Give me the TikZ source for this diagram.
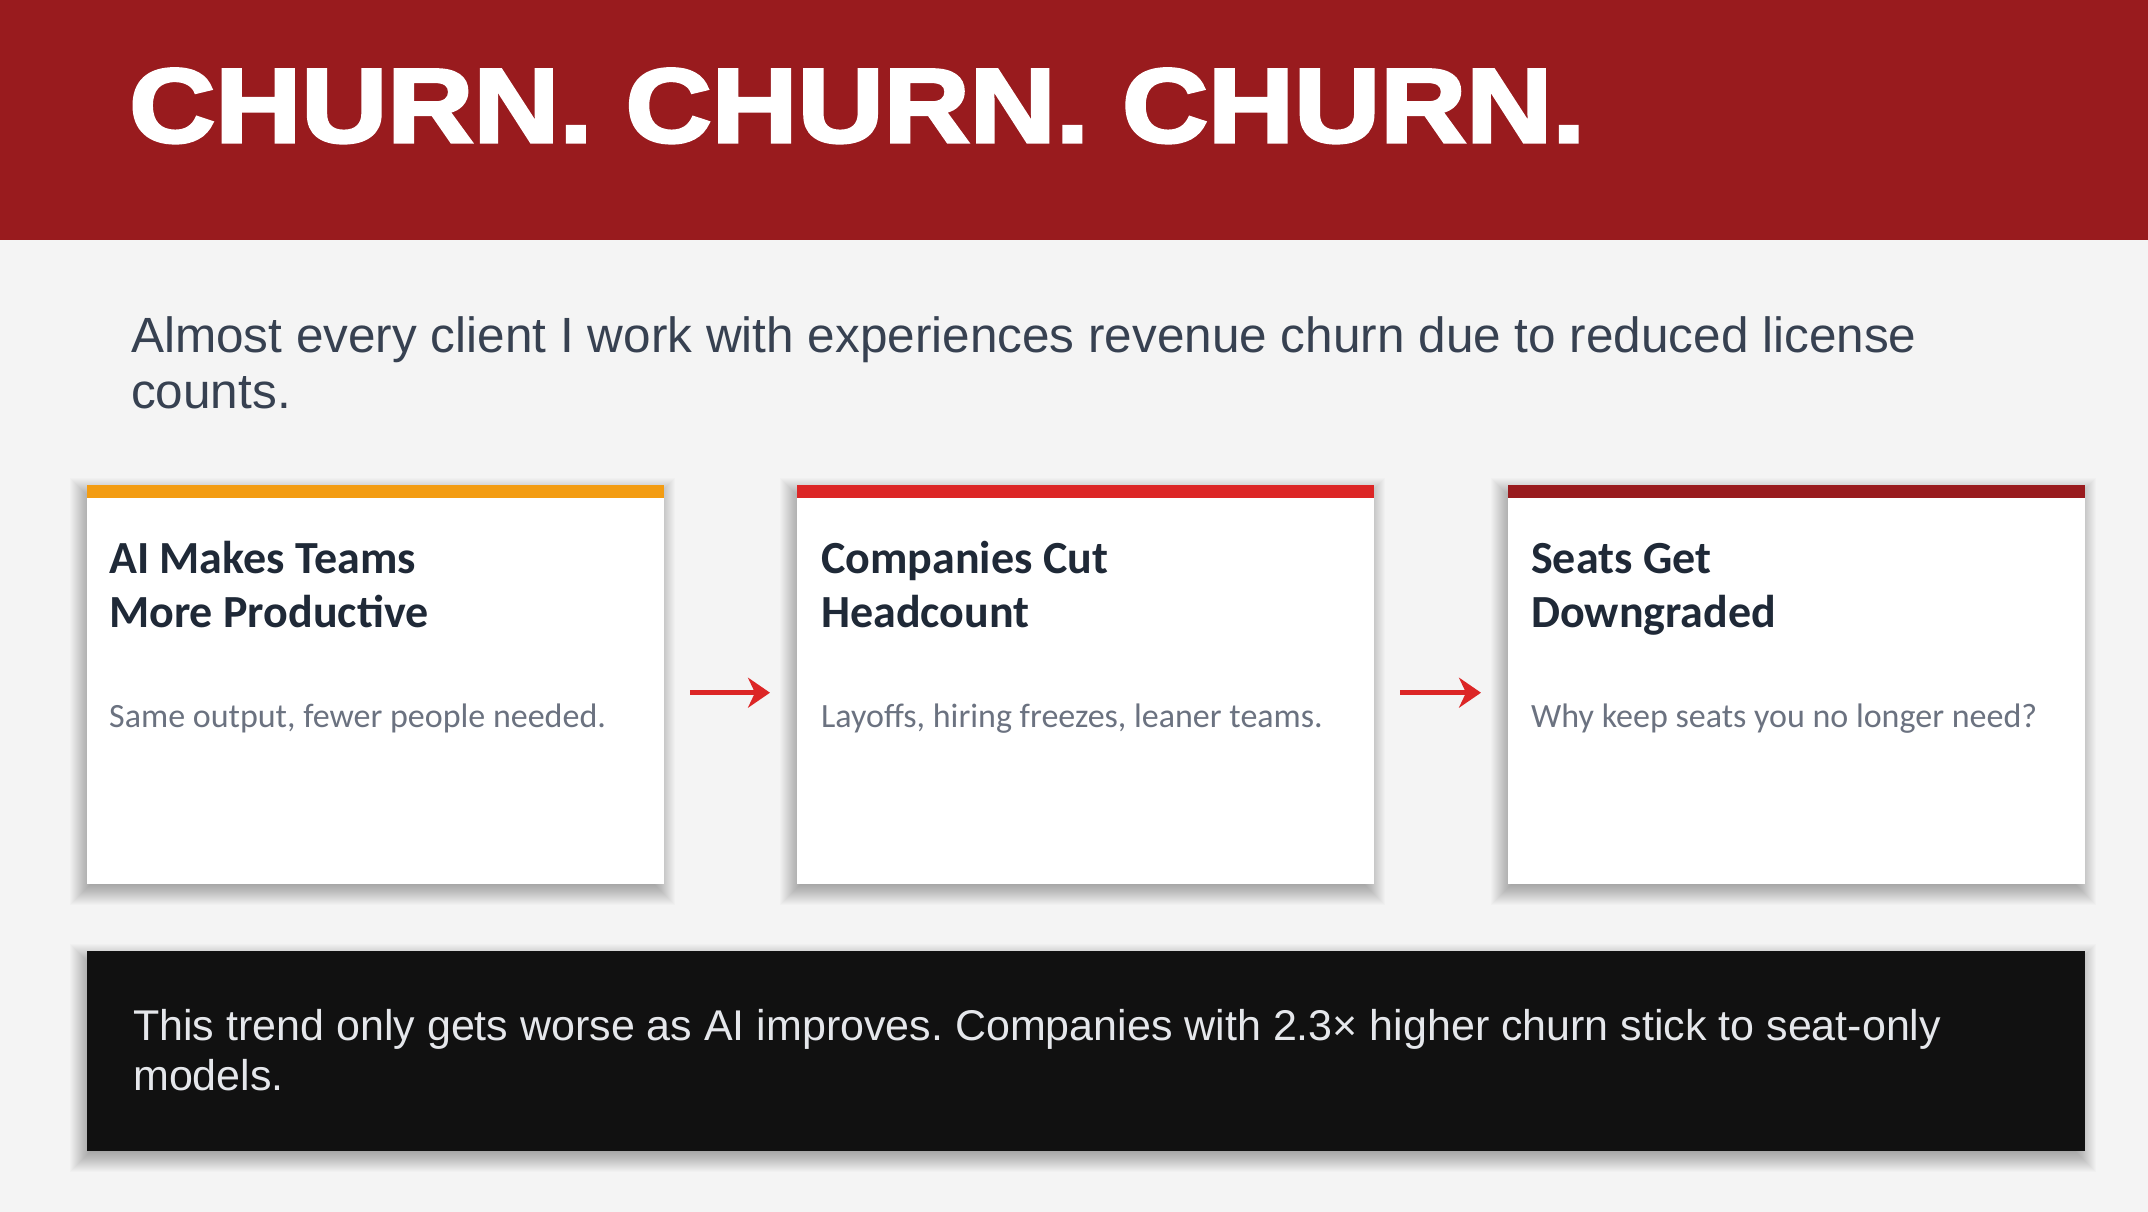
\documentclass[tikz,border=0pt]{standalone}
\usepackage{fontspec}
\setmainfont{Liberation Sans}
\newfontfamily\cardfont{Carlito}
\newfontfamily\headfont{Liberation Sans}[FakeStretch=1.135,BoldFeatures={FakeBold=3}]
\usetikzlibrary{positioning, arrows.meta}
\frenchspacing

\definecolor{headred}{HTML}{991B1E}
\definecolor{pagebg}{HTML}{F4F4F4}
\definecolor{leadink}{HTML}{374151}
\definecolor{cardink}{HTML}{1F2937}
\definecolor{bodygray}{HTML}{6B7280}
\definecolor{barorange}{HTML}{F39C12}
\definecolor{barred}{HTML}{DC2626}
\definecolor{arrowred}{HTML}{DC2626}
\definecolor{panelblack}{HTML}{111111}
\definecolor{panelink}{HTML}{E5E7EB}

\pgfdeclarelayer{back}
\pgfdeclarelayer{shade}
\pgfsetlayers{back,shade,main}

\tikzset{
  card/.style={fill=white, minimum width=577pt, minimum height=399pt,
    anchor=north west, inner sep=0pt},
  cardtitle/.style={anchor=base west, inner sep=0pt, align=left, text=cardink,
    font=\cardfont\bfseries\fontsize{46}{54}\selectfont},
  cardbody/.style={anchor=base west, inner sep=0pt, text=bodygray,
    font=\cardfont\fontsize{34}{40}\selectfont},
  flow/.style={draw=arrowred, line width=5pt,
    -{Stealth[length=22pt,width=30pt,inset=7pt]}},
}

\begin{document}
\begin{tikzpicture}[x=1pt, y=-1pt]

  % page and header band
  \useasboundingbox (0,0) rectangle (2148,1212);
  \begin{pgfonlayer}{back}
    \fill[pagebg] (0,0) rectangle (2148,1212);
  \end{pgfonlayer}
  \fill[headred] (0,0) rectangle (2148,240);

  \node[anchor=base west, inner sep=0pt, text=white,
    font=\headfont\bfseries\fontsize{105}{105}\selectfont]
    (title) at (129,142) {CHURN. CHURN. CHURN.};

  % base of a two-line node is its last line
  \node[anchor=base west, inner sep=0pt, align=left, text=leadink,
    font=\fontsize{49.5}{56}\selectfont] (lead) at (131,408)
    {Almost every client I work with experiences revenue churn due to reduced license\\counts.};

  % the three cards
  \node[card] (ai) at (87,485) {};
  \node[card] (cut) at (797,485) {};
  \node[card] (seats) at (1508,485) {};

  \fill[barorange] (ai.north west) rectangle ([yshift=-13pt]ai.north east);
  \fill[barred] (cut.north west) rectangle ([yshift=-13pt]cut.north east);
  \fill[headred] (seats.north west) rectangle ([yshift=-13pt]seats.north east);

  \node[cardtitle] (aititle) at ([xshift=22pt,yshift=-142pt]ai.north west)
    {AI Makes Teams\\More Productive};
  \node[cardbody] (aibody) at ([xshift=22pt,yshift=-242pt]ai.north west)
    {Same output, fewer people needed.};

  \node[cardtitle] (cuttitle) at ([xshift=24pt,yshift=-142pt]cut.north west)
    {Companies Cut\\Headcount};
  \node[cardbody] (cutbody) at ([xshift=24pt,yshift=-242pt]cut.north west)
    {Layoffs, hiring freezes, leaner teams.};

  \node[cardtitle] (seatstitle) at ([xshift=23pt,yshift=-142pt]seats.north west)
    {Seats Get\\Downgraded};
  \node[cardbody] (seatsbody) at ([xshift=23pt,yshift=-242pt]seats.north west)
    {Why keep seats you no longer need?};

  % arrows between cards
  \draw[flow] ([xshift=26pt,yshift=-8pt]ai.east) -- ([xshift=-27pt,yshift=-8pt]cut.west);
  \draw[flow] ([xshift=26pt,yshift=-8pt]cut.east) -- ([xshift=-27pt,yshift=-8pt]seats.west);

  % bottom panel
  \node[fill=panelblack, minimum width=1998pt, minimum height=200pt,
    anchor=north west, inner sep=0pt] (trend) at (87,951) {};
  \node[anchor=base west, inner sep=0pt, align=left, text=panelink,
    font=\fontsize{43}{50}\selectfont]
    (trendtext) at ([xshift=46pt,yshift=-139pt]trend.north west)
    {This trend only gets worse as AI improves. Companies with 2.3× higher churn stick to seat-only\\models.};

  % soft shadows under cards and panel
  \begin{pgfonlayer}{shade}
    \foreach \c in {ai,cut,seats,trend}
      \foreach \i in {0,...,20} {
        \pgfmathsetmacro\e{\i-6}
        \fill[black, opacity=0.016]
          ([xshift=-\e pt-3pt, yshift=\e pt-7pt]\c.north west)
          rectangle ([xshift=\e pt-3pt, yshift=-\e pt-7pt]\c.south east);
      }
  \end{pgfonlayer}

\end{tikzpicture}
\end{document}
